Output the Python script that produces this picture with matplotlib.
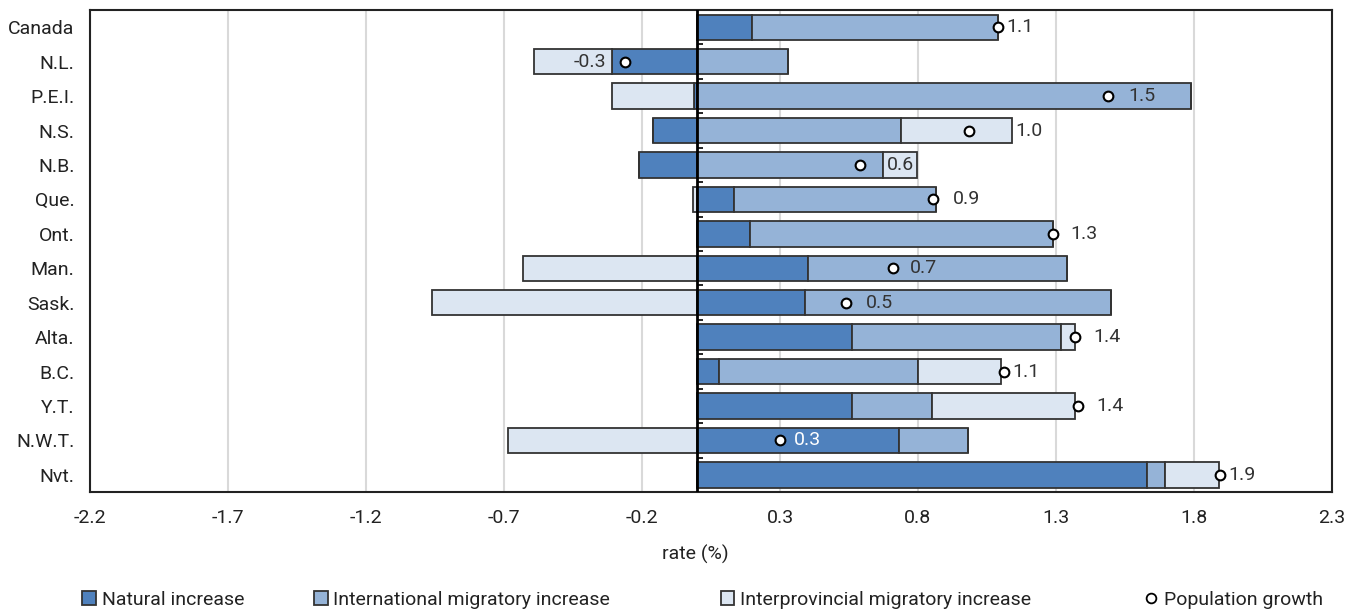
import matplotlib
matplotlib.use("Agg")
import matplotlib.pyplot as plt
import numpy as np
from matplotlib.patches import Patch
from matplotlib.lines import Line2D

plt.rcParams['font.family'] = ['Liberation Sans Narrow', 'Roboto', 'DejaVu Sans']
plt.rcParams['font.size'] = 14

# data (rates in %)
regions = ["Canada", "N.L.", "P.E.I.", "N.S.", "N.B.", "Que.", "Ont.", "Man.",
           "Sask.", "Alta.", "B.C.", "Y.T.", "N.W.T.", "Nvt."]
natural = [0.20, -0.31, -0.01, -0.16, -0.21, 0.135, 0.19, 0.40, 0.39, 0.56, 0.08, 0.56, 0.73, 1.63]
international = [0.89, 0.33, 1.79, 0.74, 0.675, 0.73, 1.10, 0.94, 1.11, 0.76, 0.72, 0.29, 0.25, 0.065]
interprovincial = [0.0, -0.28, -0.30, 0.40, 0.12, -0.015, 0.0, -0.63, -0.96, 0.05, 0.30, 0.52, -0.685, 0.195]
growth = [1.09, -0.26, 1.49, 0.985, 0.59, 0.855, 1.29, 0.71, 0.54, 1.37, 1.11, 1.38, 0.30, 1.895]
growth_labels = ["1.1", "-0.3", "1.5", "1.0", "0.6", "0.9", "1.3", "0.7", "0.5", "1.4", "1.1", "1.4", "0.3", "1.9"]
xticks = [-2.2, -1.7, -1.2, -0.7, -0.2, 0.3, 0.8, 1.3, 1.8, 2.3]

series_names = ["Natural increase", "International migratory increase", "Interprovincial migratory increase"]
colors = ["#4f81bd", "#95b3d7", "#dce6f2"]
edge = "#333333"

# how far (points) each value label sits from its dot, as in the original
label_offsets = [6, -14, 14, 33, 19, 14, 12, 12, 14, 13, 6, 13, 10, 6]

fig = plt.figure(figsize=(13.55, 6.09), dpi=100)
ax = fig.add_axes([0.0664, 0.192, 0.9166, 0.7915])

y = np.arange(len(regions))
pos_left = np.zeros(len(regions))
neg_left = np.zeros(len(regions))
for vals, col in zip([natural, international, interprovincial], colors):
    v = np.array(vals)
    pos = np.where(v > 0, v, 0)
    neg = np.where(v < 0, v, 0)
    ax.barh(y, pos, left=pos_left, height=0.74, color=col, edgecolor=edge, linewidth=1.3, zorder=3)
    ax.barh(y, neg, left=neg_left, height=0.74, color=col, edgecolor=edge, linewidth=1.3, zorder=3)
    pos_left += pos
    neg_left += neg

ax.plot(growth, y, 'o', markersize=7, markerfacecolor='white', markeredgecolor='black',
        markeredgewidth=1.5, zorder=5, linestyle='none')

for yi, g, lab, off in zip(y, growth, growth_labels, label_offsets):
    tc = 'white' if regions[yi] == "N.W.T." else '#333333'
    ax.annotate(lab, (g, yi), xytext=(off, 0), textcoords='offset points',
                ha='right' if off < 0 else 'left', va='center', color=tc, fontsize=14, zorder=6)

# zero line with little ticks between rows
ax.axvline(0, color='black', linewidth=2, zorder=4)
ax.hlines(y[:-1] + 0.5, 0, 0.02, color='black', linewidth=1.2, zorder=4)

ax.set_xlim(-2.2, 2.3)
ax.set_ylim(len(regions) - 0.5, -0.5)
ax.set_xticks(xticks)
ax.set_xticklabels([f"{t:.1f}" for t in xticks])
ax.set_yticks(y)
ax.set_yticklabels(regions)
ax.tick_params(axis='both', length=0, labelsize=14, colors='#222222')
ax.tick_params(axis='x', pad=12)
ax.tick_params(axis='y', pad=11)
ax.grid(axis='x', color='#d9d9d9', linewidth=1.5, zorder=0)
ax.set_axisbelow(True)
for s in ax.spines.values():
    s.set_color('#222222')
    s.set_linewidth(1.5)
ax.set_xlabel("rate (%)", fontsize=14, labelpad=16, color='#222222')
ax.xaxis.set_label_coords(0.487, -0.11)

# legend entries spread along the bottom
handles = [Patch(facecolor=c, edgecolor=edge, linewidth=1.3) for c in colors]
handles.append(Line2D([], [], marker='o', linestyle='none', markersize=7,
                      markerfacecolor='white', markeredgecolor='black', markeredgewidth=1.3))
names = series_names + ["Population growth"]
legend_x = [0.055, 0.226, 0.526, 0.839]
for h, n, lx in zip(handles, names, legend_x):
    fig.legend([h], [n], loc='lower left', bbox_to_anchor=(lx, -0.012), frameon=False,
               fontsize=14, handlelength=0.7, handleheight=0.7, handletextpad=0.3,
               borderaxespad=0, labelcolor='#222222')

fig.savefig("out.png", dpi=100)
